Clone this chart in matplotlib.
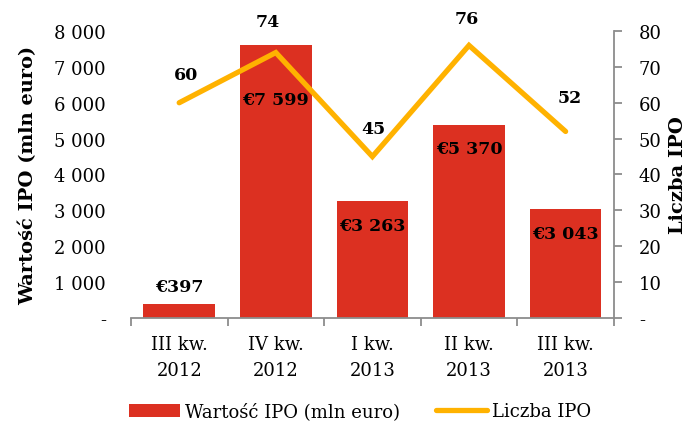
import matplotlib
matplotlib.use("Agg")
from matplotlib import pyplot as plt
from matplotlib.ticker import FuncFormatter
import numpy as np

quarters = ["III kw.\n2012", "IV kw.\n2012", "I kw.\n2013", "II kw.\n2013", "III kw.\n2013"]
ipo_value = [397, 7599, 3263, 5370, 3043]
ipo_count = [60, 74, 45, 76, 52]

bar_color = "#DC3021"
line_color = "#FFB200"
axis_color = "#8C8C8C"

plt.rcParams["font.family"] = ["DejaVu Serif"]


def fmt_thousands(v, pos):
    if v == 0:
        return "-"
    return "{:,.0f}".format(v).replace(",", " ")


fig = plt.figure(figsize=(7, 4.27), dpi=100)
ax = fig.add_axes([0.187, 0.253, 0.69, 0.672])
ax2 = ax.twinx()

x = np.arange(len(quarters))
ax.bar(x, ipo_value, width=0.74, color=bar_color, label="Wartość IPO (mln euro)")
ax2.plot(x, ipo_count, color=line_color, lw=3.8, solid_capstyle="round",
         solid_joinstyle="miter", label="Liczba IPO")

ax.set_xlim(-0.5, len(quarters) - 0.5)
ax.set_ylim(0, 8000)
ax2.set_ylim(0, 80)
ax.set_yticks(np.arange(0, 8001, 1000))
ax2.set_yticks(np.arange(0, 81, 10))
ax.yaxis.set_major_formatter(FuncFormatter(fmt_thousands))
ax2.yaxis.set_major_formatter(FuncFormatter(lambda v, p: "-" if v == 0 else "%d" % v))

ax.set_xticks(x)
ax.set_xticklabels(quarters, fontsize=13, linespacing=1.6)
ax.set_xticks(np.arange(-0.5, len(quarters), 1), minor=True)
ax.tick_params(axis="x", which="major", length=0, pad=12)
ax.tick_params(axis="x", which="minor", length=6, color=axis_color, width=1.3)
ax.tick_params(axis="y", length=0, labelsize=13, pad=18)
ax2.tick_params(axis="y", length=6, color=axis_color, width=1.3, labelsize=13, pad=12)

for a in (ax, ax2):
    for s in ("top", "left", "right", "bottom"):
        a.spines[s].set_visible(False)
ax.spines["bottom"].set_visible(True)
ax.spines["bottom"].set_color(axis_color)
ax.spines["bottom"].set_linewidth(1.3)
ax2.spines["right"].set_visible(True)
ax2.spines["right"].set_color(axis_color)
ax2.spines["right"].set_linewidth(1.3)

ax.set_ylabel("Wartość IPO (mln euro)", fontsize=14, fontweight="bold", labelpad=12)
ax2.set_ylabel("Liczba IPO", fontsize=14, fontweight="bold", labelpad=5)

# bar value labels (pixel offsets from bar top)
bar_offsets = [17, -54, -25, -23, -25]
for i, v in enumerate(ipo_value):
    ax2.annotate("€" + fmt_thousands(v, None), (i, v / 100.0), xytext=(0, bar_offsets[i]),
                 textcoords="offset pixels", ha="center", va="center",
                 fontsize=12.5, fontweight="bold")

# line value labels
line_offsets = [(7, 28), (-8, 31), (1, 28), (-2, 27), (4, 34)]
for i, c in enumerate(ipo_count):
    ax2.annotate(str(c), (i, c), xytext=line_offsets[i], textcoords="offset pixels",
                 ha="center", va="center", fontsize=12.5, fontweight="bold")

h1, l1 = ax.get_legend_handles_labels()
h2, l2 = ax2.get_legend_handles_labels()
fig.legend(h1 + h2, l1 + l2, loc="lower center", bbox_to_anchor=(0.515, -0.025), ncol=2,
           frameon=False, fontsize=13, handlelength=2.8, handleheight=0.75,
           columnspacing=2.0, handletextpad=0.3)

fig.savefig("out.png", dpi=100)
